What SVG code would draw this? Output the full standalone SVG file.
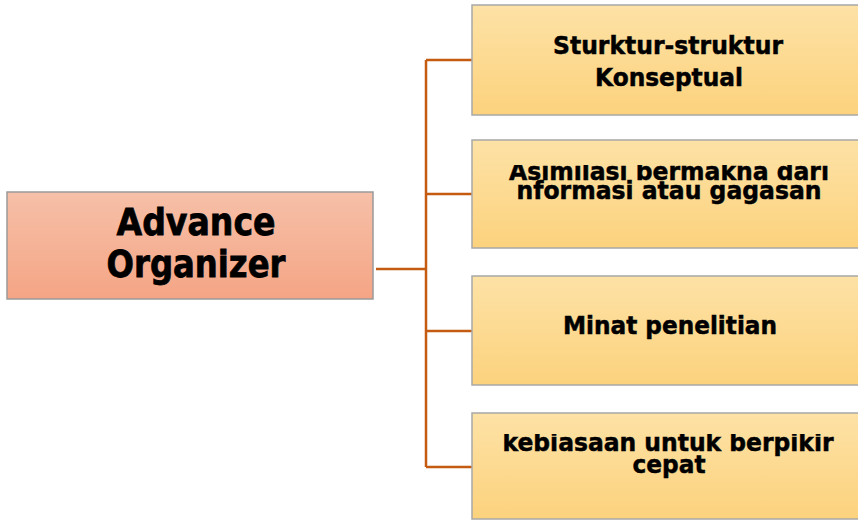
<svg xmlns="http://www.w3.org/2000/svg" width="858" height="521" viewBox="0 0 858 521">
<defs>
<linearGradient id="gMain" x1="0" y1="0" x2="0" y2="1"><stop offset="0" stop-color="#f6c0a8"/><stop offset="1" stop-color="#f5a585"/></linearGradient>
<linearGradient id="gBox" x1="0" y1="0" x2="0" y2="1"><stop offset="0" stop-color="#fde2a6"/><stop offset="1" stop-color="#fcd27d"/></linearGradient>
<clipPath id="c2"><rect x="472" y="165" width="400" height="60"/></clipPath>
<clipPath id="c4"><rect x="472" y="434" width="400" height="60"/></clipPath>
<style>
.main{fill:url(#gMain);stroke:#9a9a9a;stroke-width:1.5}
.box{fill:url(#gBox);stroke:#a8a8a8;stroke-width:1.5}
.t{font-family:"DejaVu Sans",Verdana,sans-serif;font-weight:bold;fill:#000;stroke:#000;stroke-width:0.5;text-anchor:middle}
.tm{font-size:38px;stroke-width:0.8}
.tb{font-size:25px}
.conn{stroke:#c55a11;stroke-width:2.5;fill:none}
</style>
</defs>
<g id="connectors">
<path class="conn" d="M376 269H426M426 60V467M426 60H472M426 194H472M426 331H472M426 467H472"/>
</g>
<g id="advance-organizer">
<rect class="main" x="7" y="192" width="366" height="107"/>
<text class="t tm"><tspan x="196" y="235" textLength="159" lengthAdjust="spacingAndGlyphs">Advance</tspan><tspan x="196" y="277" textLength="179" lengthAdjust="spacingAndGlyphs">Organizer</tspan></text>
</g>
<g id="node1">
<rect class="box" x="472" y="5" width="400" height="110"/>
<text class="t tb"><tspan x="668" y="54" textLength="230" lengthAdjust="spacingAndGlyphs">Sturktur-struktur</tspan><tspan x="669" y="86" textLength="148" lengthAdjust="spacingAndGlyphs">Konseptual</tspan></text>
</g>
<g id="node2">
<rect class="box" x="472" y="140" width="400" height="108"/>
<g clip-path="url(#c2)">
<text class="t tb"><tspan x="669" y="180" textLength="320" lengthAdjust="spacingAndGlyphs">Asimilasi bermakna dari</tspan><tspan x="669" y="199" textLength="305" lengthAdjust="spacingAndGlyphs">nformasi atau gagasan</tspan></text>
</g>
</g>
<g id="node3">
<rect class="box" x="472" y="276" width="400" height="109"/>
<text class="t tb" x="670" y="334" textLength="214" lengthAdjust="spacingAndGlyphs">Minat penelitian</text>
</g>
<g id="node4">
<rect class="box" x="472" y="413" width="400" height="106"/>
<g clip-path="url(#c4)">
<text class="t tb"><tspan x="668" y="451" textLength="331" lengthAdjust="spacingAndGlyphs">kebiasaan untuk berpikir</tspan><tspan x="669" y="473" textLength="73" lengthAdjust="spacingAndGlyphs">cepat</tspan></text>
</g>
</g>
</svg>
